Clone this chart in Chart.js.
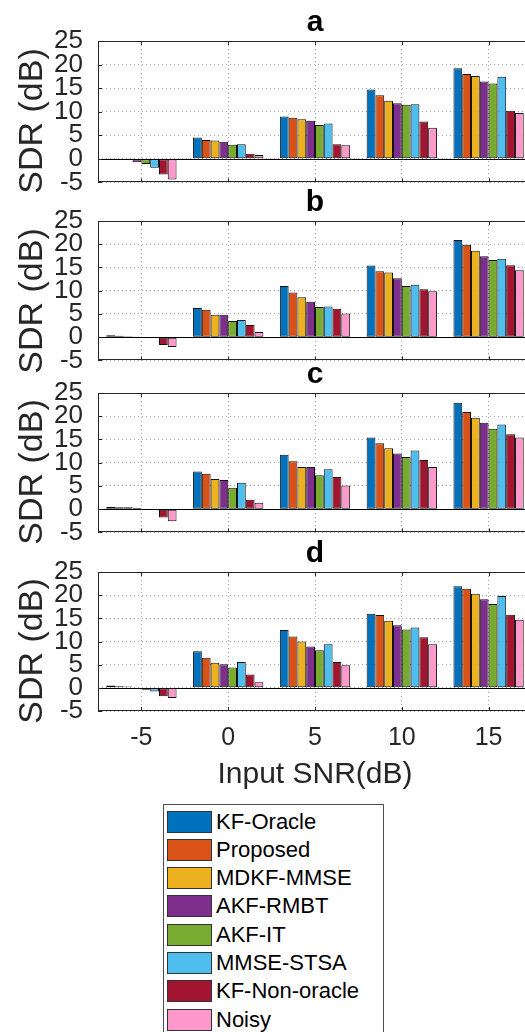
<!DOCTYPE html>
<html>
<head>
<meta charset="utf-8">
<script src="https://cdn.jsdelivr.net/npm/chart.js@4.4.0/dist/chart.umd.min.js"></script>
<style>
  html, body { margin: 0; padding: 0; background: #fff; }
  body { width: 525px; height: 1032px; overflow: hidden; position: relative;
         font-family: 'Liberation Sans', Arial, sans-serif; color: #262626; }
  canvas { position: absolute; left: 0; }
  .ylab { position: absolute; left: 30px; font-size: 34px; white-space: nowrap;
          transform: translate(-50%, -50%) rotate(-90deg); }
  #legend { position: absolute; left: 163px; top: 804px; width: 221px; height: 260px;
            border: 1px solid #4d4d4d; padding-top: 2.4px; box-sizing: border-box; }
  .row { display: flex; align-items: center; height: 28.3px; font-size: 22px; color: #000; }
  .sw { width: 45px; height: 22px; margin-left: 3px; margin-right: 4px;
        border: 1px solid #333; box-sizing: border-box; }
</style>
</head>
<body>
<canvas id="pa" width="560" height="213" style="top:0px"></canvas>
<canvas id="pb" width="560" height="211" style="top:180px"></canvas>
<canvas id="pc" width="560" height="211" style="top:352px"></canvas>
<canvas id="pd" width="560" height="262" style="top:531px"></canvas>
<div id="legend"></div>
<script>
const FONT = "'Liberation Sans', Arial, sans-serif";

// input SNR levels (dB)
const snrLevels = ['-5', '0', '5', '10', '15'];

const methods = ['KF-Oracle', 'Proposed', 'MDKF-MMSE', 'AKF-RMBT', 'AKF-IT',
                 'MMSE-STSA', 'KF-Non-oracle', 'Noisy'];
const methodColors = ['#0072BD', '#D95319', '#EDB120', '#7E2F8E', '#77AC30',
                      '#4DBEEE', '#A2142F', '#FF99CC'];

// SDR (dB), one row per method, one column per SNR level
const sdrA = [
  [0.1, 4.5, 9.0, 14.7, 19.2],
  [0.1, 4.0, 8.7, 13.5, 18.0],
  [0.05, 3.9, 8.4, 12.3, 17.6],
  [-0.7, 3.6, 8.1, 11.8, 16.4],
  [-1.1, 3.0, 7.2, 11.5, 16.0],
  [-1.9, 3.1, 7.5, 11.6, 17.4],
  [-3.3, 1.1, 3.1, 7.9, 10.2],
  [-4.4, 0.8, 2.9, 6.6, 9.7]
];
const sdrB = [
  [0.4, 6.3, 11.0, 15.4, 20.9],
  [0.3, 5.9, 9.6, 14.2, 19.9],
  [0.2, 4.8, 8.6, 13.9, 18.6],
  [0.05, 4.8, 7.6, 12.7, 17.4],
  [-0.2, 3.5, 6.5, 11.0, 16.6],
  [-0.1, 3.7, 6.6, 11.3, 16.9],
  [-1.7, 2.6, 6.1, 10.3, 15.5],
  [-2.1, 1.1, 5.1, 9.9, 14.4]
];
const sdrC = [
  [0.5, 8.1, 11.7, 15.4, 22.9],
  [0.4, 7.6, 10.3, 14.2, 20.9],
  [0.4, 6.5, 9.1, 13.1, 19.7],
  [0.3, 6.3, 9.1, 12.0, 18.6],
  [-0.2, 4.6, 7.3, 11.2, 17.3],
  [-0.05, 5.7, 8.6, 12.6, 18.2],
  [-1.8, 2.0, 6.9, 10.6, 16.1],
  [-2.6, 1.4, 5.1, 9.1, 15.4]
];
const sdrD = [
  [0.5, 7.9, 12.5, 16.0, 21.9],
  [0.35, 6.5, 11.1, 15.7, 21.4],
  [0.3, 5.4, 10.0, 14.5, 20.3],
  [0.1, 5.1, 8.9, 13.5, 19.1],
  [-0.4, 4.4, 8.1, 12.6, 18.1],
  [-0.8, 5.6, 9.4, 13.0, 19.8],
  [-1.8, 2.9, 5.6, 10.9, 15.8],
  [-2.2, 1.2, 4.9, 9.4, 14.7]
];

// box, inward ticks and the zero baseline like a matlab axes
const axesFrame = {
  id: 'axesFrame',
  beforeDatasetsDraw(chart) {
    const { ctx, chartArea: a, scales: { y } } = chart;
    const y0 = Math.round(y.getPixelForValue(0)) + 0.5;
    ctx.save();
    ctx.strokeStyle = '#000';
    ctx.lineWidth = 1;
    ctx.beginPath();
    ctx.moveTo(a.left, y0);
    ctx.lineTo(a.right, y0);
    ctx.stroke();
    ctx.restore();
  },
  afterDraw(chart) {
    const { ctx, chartArea: a, scales: { x, y } } = chart;
    ctx.save();
    ctx.strokeStyle = '#262626';
    ctx.lineWidth = 1;
    ctx.strokeRect(Math.round(a.left) + 0.5, Math.round(a.top) + 0.5,
                   Math.round(a.right - a.left) - 1, Math.round(a.bottom - a.top) - 1);
    ctx.beginPath();
    y.ticks.forEach(t => {
      const p = Math.round(y.getPixelForValue(t.value)) + 0.5;
      ctx.moveTo(a.left, p); ctx.lineTo(a.left + 4, p);
      ctx.moveTo(a.right, p); ctx.lineTo(a.right - 4, p);
    });
    x.ticks.forEach((t, i) => {
      const p = Math.round(x.getPixelForTick(i)) + 0.5;
      ctx.moveTo(p, a.bottom); ctx.lineTo(p, a.bottom - 4);
      ctx.moveTo(p, a.top); ctx.lineTo(p, a.top + 4);
    });
    ctx.stroke();
    ctx.restore();
  }
};

function makePanel(id, title, rows, bottom) {
  return new Chart(document.getElementById(id), {
    type: 'bar',
    data: {
      labels: snrLevels,
      datasets: methods.map((m, i) => ({
        label: m,
        data: rows[i],
        backgroundColor: methodColors[i],
        borderColor: '#111',
        borderWidth: 1,
        borderSkipped: false,
        categoryPercentage: 0.81,
        barPercentage: 1
      }))
    },
    options: {
      responsive: false,
      animation: false,
      devicePixelRatio: 1,
      layout: { padding: { left: 0, right: 28, top: 0, bottom: 0 } },
      plugins: {
        legend: { display: false },
        tooltip: { enabled: false },
        title: {
          display: true, text: title, fullSize: false, color: '#000',
          font: { size: 30, weight: 'bold', family: FONT },
          padding: { top: 5, bottom: 0 }
        }
      },
      scales: {
        x: {
          offset: true,
          grid: { offset: false, color: '#a6a6a6', drawTicks: false },
          border: { display: false, dash: [1, 3] },
          ticks: {
            display: bottom, padding: 12, maxRotation: 0, autoSkip: false,
            color: '#262626', font: { size: 25, family: FONT }
          },
          title: {
            display: bottom, text: 'Input SNR(dB)', color: '#262626',
            font: { size: 30, family: FONT }, padding: { top: -8, bottom: 0 }
          }
        },
        y: {
          min: -5,
          max: 25,
          afterFit: s => { s.width = 98; },
          grid: { color: '#a6a6a6', drawTicks: false },
          border: { display: false, dash: [1, 3] },
          ticks: {
            stepSize: 5, autoSkip: false, padding: 15,
            color: '#262626', font: { size: 26, family: FONT }
          }
        }
      }
    },
    plugins: [axesFrame]
  });
}

makePanel('pa', 'a', sdrA, false);
makePanel('pb', 'b', sdrB, false);
makePanel('pc', 'c', sdrC, false);
makePanel('pd', 'd', sdrD, true);

// y labels sit a little below the centre of each axes
[120.5, 300.5, 472, 651].forEach(cy => {
  const d = document.createElement('div');
  d.className = 'ylab';
  d.style.top = cy + 'px';
  d.textContent = 'SDR (dB)';
  document.body.appendChild(d);
});

const legend = document.getElementById('legend');
methods.forEach((m, i) => {
  const row = document.createElement('div');
  row.className = 'row';
  const sw = document.createElement('span');
  sw.className = 'sw';
  sw.style.background = methodColors[i];
  const txt = document.createElement('span');
  txt.textContent = m;
  row.appendChild(sw);
  row.appendChild(txt);
  legend.appendChild(row);
});
</script>
</body>
</html>
